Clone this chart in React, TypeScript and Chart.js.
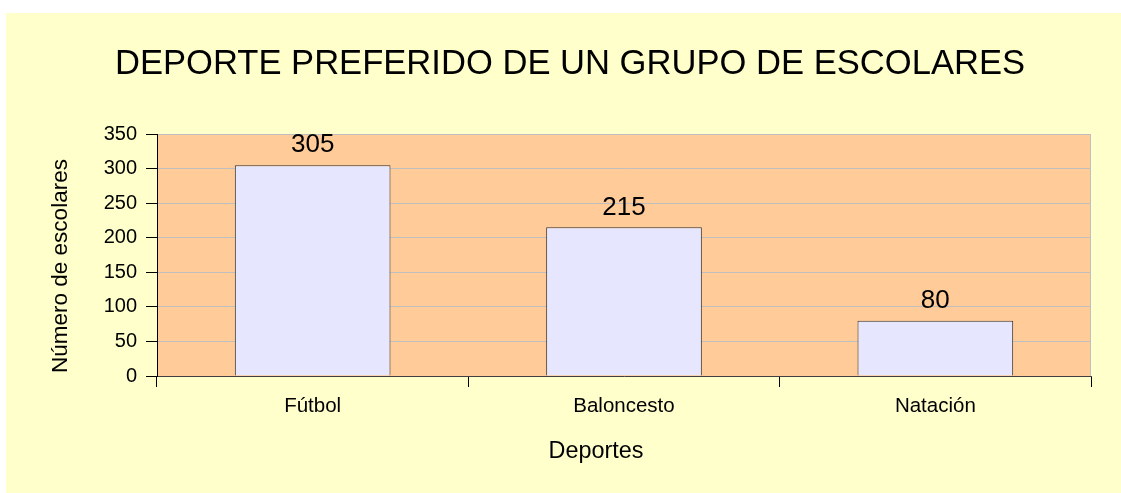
import React, { useEffect, useRef } from 'react';
import { Chart, registerables } from 'chart.js';

Chart.register(...registerables);

const categories = ['Fútbol', 'Baloncesto', 'Natación'];
const values = [305, 215, 80];
const yTickValues = [0, 50, 100, 150, 200, 250, 300, 350];
const titleText = 'DEPORTE PREFERIDO DE UN GRUPO DE ESCOLARES';
const xTitle = 'Deportes';
const yTitle = 'Número de escolares';

const FONT = '"Liberation Sans", Arial, sans-serif';

const backgroundPlugin = {
  id: 'bgPanels',
  afterLayout(chart: any) {
    if (chart.titleBlock) {
      chart.titleBlock.left = 19;
      chart.titleBlock.right = 1121;
    }
  },
  beforeDraw(chart: any) {
    const { ctx, chartArea } = chart;
    ctx.save();
    ctx.fillStyle = '#FFFFCC';
    ctx.fillRect(6, 13, chart.width - 6, chart.height - 13);
    ctx.fillStyle = '#FFCC99';
    ctx.fillRect(chartArea.left, chartArea.top, chartArea.right - chartArea.left, chartArea.bottom - chartArea.top);
    ctx.restore();
  },
  afterDraw(chart: any) {
    const { ctx, chartArea } = chart;
    ctx.save();
    ctx.strokeStyle = '#BFBFBF';
    ctx.lineWidth = 1;
    ctx.beginPath();
    const x = Math.round(chartArea.right) - 0.5;
    ctx.moveTo(x, chartArea.top);
    ctx.lineTo(x, chartArea.bottom);
    ctx.stroke();

    // axis titles
    ctx.fillStyle = '#000';
    ctx.textAlign = 'center';
    ctx.textBaseline = 'middle';
    ctx.font = `23.4px ${FONT}`;
    ctx.fillText(xTitle, chartArea.left + 439, chartArea.bottom + 75.5);
    ctx.translate(chartArea.left - 96, chartArea.top + 132);
    ctx.rotate(-Math.PI / 2);
    ctx.font = `22.5px ${FONT}`;
    ctx.fillText(yTitle, 0, 0);
    ctx.restore();
  },
};

const dataLabelPlugin = {
  id: 'dataLabels',
  afterDatasetsDraw(chart: any) {
    const { ctx } = chart;
    const meta = chart.getDatasetMeta(0);
    ctx.save();
    ctx.fillStyle = '#000';
    ctx.font = `26px ${FONT}`;
    ctx.textAlign = 'center';
    ctx.textBaseline = 'middle';
    meta.data.forEach((bar: any, i: number) => {
      ctx.fillText(String(values[i]), bar.x, bar.y - 20);
    });
    ctx.restore();
  },
};

export default function App() {
  const ref = useRef<HTMLCanvasElement | null>(null);

  useEffect(() => {
    document.documentElement.style.overflow = 'hidden';
    document.body.style.overflow = 'hidden';
    document.body.style.margin = '0';
    if (!ref.current) return;
    const chart = new Chart(ref.current, {
      type: 'bar',
      data: {
        labels: categories,
        datasets: [
          {
            data: values,
            backgroundColor: '#E6E6FF',
            borderColor: '#333333',
            borderWidth: 1,
            barPercentage: 0.5,
            categoryPercentage: 1,
          },
        ],
      },
      plugins: [backgroundPlugin, dataLabelPlugin],
      options: {
        responsive: false,
        animation: false,
        layout: { padding: { left: 6, top: 13, right: 30, bottom: 0 } },
        plugins: {
          legend: { display: false },
          tooltip: { enabled: false },
          title: {
            display: true,
            text: titleText,
            color: '#000',
            font: { family: FONT, size: 34.6, weight: 'normal', lineHeight: 1.2 },
            padding: { top: 30.7, bottom: 48.8 },
          },
        },
        scales: {
          x: {
            offset: true,
            grid: {
              offset: true,
              drawOnChartArea: false,
              drawTicks: true,
              tickLength: 11,
              tickColor: '#000',
            },
            border: { display: true, color: '#404040', width: 1 },
            ticks: {
              color: '#000',
              padding: 7,
              font: { family: FONT, size: 20.5, lineHeight: 1.2 },
            },
            title: { display: false },
            afterFit(scale: any) {
              scale.height = 117;
            },
          },
          y: {
            min: 0,
            max: 350,
            afterBuildTicks(scale: any) {
              scale.ticks = yTickValues.map((v) => ({ value: v }));
            },
            grid: {
              color: '#BFBFBF',
              lineWidth: 1,
              drawTicks: true,
              tickLength: 11,
              tickColor: '#000',
            },
            border: { display: true, color: '#000', width: 1 },
            ticks: {
              color: '#000',
              padding: 9,
              font: { family: FONT, size: 20, lineHeight: 1.2 },
            },
            title: { display: false },
            afterFit(scale: any) {
              scale.width = 151;
            },
          },
        },
      },
    } as any);
    return () => chart.destroy();
  }, []);

  return (
    <div style={{ position: 'fixed', left: 0, top: 0, width: 1121, height: 493, background: '#fff', overflow: 'hidden' }}>
      <canvas
        ref={ref}
        width={1121}
        height={493}
        style={{ position: 'absolute', left: 0, top: 0, display: 'block', width: 1121, height: 493 }}
      />
    </div>
  );
}
